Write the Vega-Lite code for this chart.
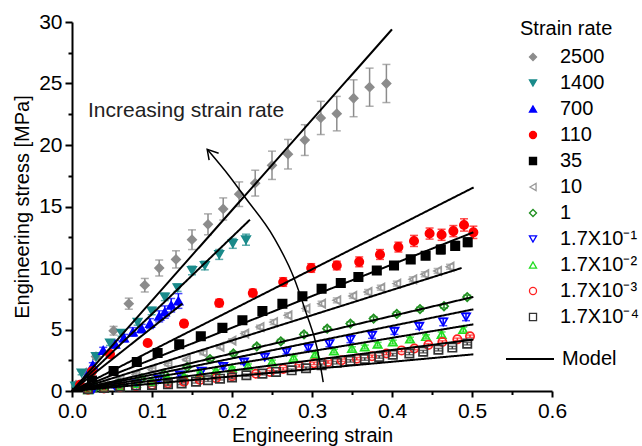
{
  "$schema": "https://vega.github.io/schema/vega-lite/v6.json",
  "width": 480,
  "height": 369,
  "autosize": {"type": "none"},
  "padding": {"left": 72, "top": 22, "right": 90, "bottom": 55},
  "background": "white",
  "config": {"view": {"stroke": null}, "font": "Liberation Sans"},
  "datasets": {
    "points": [
      {"rate":"2500","x":0.005,"y":0.5,"err":0.1},{"rate":"2500","x":0.018,"y":1.5,"err":0.15},{"rate":"2500","x":0.03,"y":2.8,"err":0.25},{"rate":"2500","x":0.052,"y":4.9,"err":0.35},{"rate":"2500","x":0.071,"y":7.1,"err":0.45},{"rate":"2500","x":0.091,"y":8.6,"err":0.55},{"rate":"2500","x":0.109,"y":10.0,"err":0.65},{"rate":"2500","x":0.13,"y":10.7,"err":0.7},{"rate":"2500","x":0.15,"y":12.3,"err":0.8},{"rate":"2500","x":0.17,"y":13.55,"err":0.85},{"rate":"2500","x":0.189,"y":14.8,"err":0.9},{"rate":"2500","x":0.209,"y":16.0,"err":1.0},{"rate":"2500","x":0.229,"y":16.9,"err":1.05},{"rate":"2500","x":0.25,"y":18.35,"err":1.15},{"rate":"2500","x":0.27,"y":19.25,"err":1.2},{"rate":"2500","x":0.291,"y":20.4,"err":1.25},{"rate":"2500","x":0.311,"y":22.2,"err":1.35},{"rate":"2500","x":0.331,"y":22.55,"err":1.4},{"rate":"2500","x":0.352,"y":23.8,"err":1.5},{"rate":"2500","x":0.372,"y":24.7,"err":1.55},{"rate":"2500","x":0.393,"y":25.0,"err":1.55},
      {"rate":"1400","x":0.004,"y":0.4,"err":0.1},{"rate":"1400","x":0.012,"y":1.47,"err":0.15},{"rate":"1400","x":0.03,"y":2.8,"err":0.2},{"rate":"1400","x":0.0475,"y":3.9,"err":0.2},{"rate":"1400","x":0.062,"y":4.7,"err":0.25},{"rate":"1400","x":0.082,"y":5.6,"err":0.25},{"rate":"1400","x":0.0996,"y":6.5,"err":0.3},{"rate":"1400","x":0.116,"y":7.65,"err":0.3},{"rate":"1400","x":0.132,"y":8.4,"err":0.3},{"rate":"1400","x":0.15,"y":9.8,"err":0.35},{"rate":"1400","x":0.166,"y":10.2,"err":0.35},{"rate":"1400","x":0.184,"y":11.1,"err":0.4},{"rate":"1400","x":0.201,"y":12.0,"err":0.4},{"rate":"1400","x":0.2175,"y":12.3,"err":0.45},
      {"rate":"700","x":0.01,"y":0.5,"err":0.1},{"rate":"700","x":0.02,"y":1.4,"err":0.15},{"rate":"700","x":0.026,"y":2.1,"err":0.2},{"rate":"700","x":0.039,"y":3.3,"err":0.25},{"rate":"700","x":0.054,"y":3.8,"err":0.3},{"rate":"700","x":0.065,"y":4.3,"err":0.3},{"rate":"700","x":0.076,"y":4.8,"err":0.35},{"rate":"700","x":0.087,"y":5.07,"err":0.35},{"rate":"700","x":0.0975,"y":5.48,"err":0.4},{"rate":"700","x":0.109,"y":6.07,"err":0.45},{"rate":"700","x":0.116,"y":6.42,"err":0.5},{"rate":"700","x":0.124,"y":6.97,"err":0.55},{"rate":"700","x":0.133,"y":7.32,"err":0.6},
      {"rate":"110","x":0.01,"y":0.5,"err":0.1},{"rate":"110","x":0.025,"y":1.6,"err":0.15},{"rate":"110","x":0.0475,"y":3.0,"err":0.2},{"rate":"110","x":0.0946,"y":3.9,"err":0.2},{"rate":"110","x":0.14,"y":5.48,"err":0.25},{"rate":"110","x":0.184,"y":7.15,"err":0.3},{"rate":"110","x":0.226,"y":7.97,"err":0.3},{"rate":"110","x":0.264,"y":8.86,"err":0.35},{"rate":"110","x":0.299,"y":10.0,"err":0.35},{"rate":"110","x":0.331,"y":10.2,"err":0.35},{"rate":"110","x":0.359,"y":10.5,"err":0.4},{"rate":"110","x":0.385,"y":11.1,"err":0.4},{"rate":"110","x":0.408,"y":11.7,"err":0.4},{"rate":"110","x":0.4275,"y":12.2,"err":0.45},{"rate":"110","x":0.447,"y":12.8,"err":0.45},{"rate":"110","x":0.462,"y":12.7,"err":0.45},{"rate":"110","x":0.4767,"y":13.0,"err":0.45},{"rate":"110","x":0.49,"y":13.5,"err":0.5},{"rate":"110","x":0.5017,"y":12.9,"err":0.5},
      {"rate":"35","x":0.025,"y":0.85,"err":0.1},{"rate":"35","x":0.052,"y":1.63,"err":0.1},{"rate":"35","x":0.081,"y":2.36,"err":0.1},{"rate":"35","x":0.107,"y":3.09,"err":0.1},{"rate":"35","x":0.134,"y":3.8,"err":0.15},{"rate":"35","x":0.161,"y":4.45,"err":0.15},{"rate":"35","x":0.188,"y":5.13,"err":0.15},{"rate":"35","x":0.213,"y":5.75,"err":0.2},{"rate":"35","x":0.238,"y":6.5,"err":0.2},{"rate":"35","x":0.263,"y":7.1,"err":0.2},{"rate":"35","x":0.288,"y":7.7,"err":0.2},{"rate":"35","x":0.312,"y":8.32,"err":0.25},{"rate":"35","x":0.336,"y":8.78,"err":0.25},{"rate":"35","x":0.358,"y":9.27,"err":0.25},{"rate":"35","x":0.381,"y":9.8,"err":0.3},{"rate":"35","x":0.4025,"y":10.2,"err":0.3},{"rate":"35","x":0.4234,"y":10.7,"err":0.3},{"rate":"35","x":0.442,"y":11.0,"err":0.3},{"rate":"35","x":0.461,"y":11.5,"err":0.35},{"rate":"35","x":0.479,"y":11.8,"err":0.35},{"rate":"35","x":0.4946,"y":12.1,"err":0.35},
      {"rate":"10","x":0.02,"y":0.3,"err":0.1},{"rate":"10","x":0.04,"y":0.6,"err":0.1},{"rate":"10","x":0.06,"y":0.95,"err":0.1},{"rate":"10","x":0.08,"y":1.35,"err":0.1},{"rate":"10","x":0.1,"y":1.75,"err":0.1},{"rate":"10","x":0.12,"y":2.15,"err":0.1},{"rate":"10","x":0.143,"y":2.55,"err":0.1},{"rate":"10","x":0.164,"y":3.1,"err":0.15},{"rate":"10","x":0.185,"y":3.6,"err":0.15},{"rate":"10","x":0.2,"y":4.1,"err":0.15},{"rate":"10","x":0.216,"y":4.67,"err":0.15},{"rate":"10","x":0.235,"y":5.2,"err":0.15},{"rate":"10","x":0.252,"y":5.6,"err":0.2},{"rate":"10","x":0.27,"y":6.15,"err":0.2},{"rate":"10","x":0.2925,"y":6.7,"err":0.2},{"rate":"10","x":0.312,"y":7.1,"err":0.2},{"rate":"10","x":0.331,"y":7.37,"err":0.2},{"rate":"10","x":0.351,"y":7.73,"err":0.2},{"rate":"10","x":0.37,"y":8.05,"err":0.2},{"rate":"10","x":0.386,"y":8.4,"err":0.2},{"rate":"10","x":0.406,"y":8.73,"err":0.2},{"rate":"10","x":0.426,"y":9.08,"err":0.2},{"rate":"10","x":0.441,"y":9.49,"err":0.2},{"rate":"10","x":0.457,"y":9.76,"err":0.2},{"rate":"10","x":0.4725,"y":10.1,"err":0.2},
      {"rate":"1","x":0.03,"y":0.3,"err":0.1},{"rate":"1","x":0.058,"y":0.6,"err":0.1},{"rate":"1","x":0.087,"y":1.0,"err":0.1},{"rate":"1","x":0.115,"y":1.4,"err":0.1},{"rate":"1","x":0.144,"y":1.95,"err":0.1},{"rate":"1","x":0.1725,"y":2.6,"err":0.15},{"rate":"1","x":0.2017,"y":3.05,"err":0.15},{"rate":"1","x":0.231,"y":3.62,"err":0.15},{"rate":"1","x":0.261,"y":4.04,"err":0.15},{"rate":"1","x":0.29,"y":4.6,"err":0.15},{"rate":"1","x":0.319,"y":5.07,"err":0.15},{"rate":"1","x":0.348,"y":5.48,"err":0.15},{"rate":"1","x":0.377,"y":5.89,"err":0.15},{"rate":"1","x":0.406,"y":6.27,"err":0.15},{"rate":"1","x":0.435,"y":6.66,"err":0.15},{"rate":"1","x":0.465,"y":6.89,"err":0.15},{"rate":"1","x":0.494,"y":7.64,"err":0.15},
      {"rate":"1.7X10⁻¹","x":0.027,"y":0.15,"err":0.1},{"rate":"1.7X10⁻¹","x":0.054,"y":0.35,"err":0.1},{"rate":"1.7X10⁻¹","x":0.081,"y":0.6,"err":0.1},{"rate":"1.7X10⁻¹","x":0.108,"y":0.95,"err":0.15},{"rate":"1.7X10⁻¹","x":0.135,"y":1.3,"err":0.15},{"rate":"1.7X10⁻¹","x":0.162,"y":1.6,"err":0.2},{"rate":"1.7X10⁻¹","x":0.189,"y":2.0,"err":0.2},{"rate":"1.7X10⁻¹","x":0.215,"y":2.36,"err":0.2},{"rate":"1.7X10⁻¹","x":0.241,"y":2.77,"err":0.2},{"rate":"1.7X10⁻¹","x":0.268,"y":3.2,"err":0.2},{"rate":"1.7X10⁻¹","x":0.2955,"y":3.5,"err":0.2},{"rate":"1.7X10⁻¹","x":0.3217,"y":3.85,"err":0.25},{"rate":"1.7X10⁻¹","x":0.348,"y":4.18,"err":0.25},{"rate":"1.7X10⁻¹","x":0.375,"y":4.53,"err":0.25},{"rate":"1.7X10⁻¹","x":0.403,"y":4.85,"err":0.25},{"rate":"1.7X10⁻¹","x":0.434,"y":5.26,"err":0.25},{"rate":"1.7X10⁻¹","x":0.464,"y":5.61,"err":0.3},{"rate":"1.7X10⁻¹","x":0.4925,"y":6.02,"err":0.3},
      {"rate":"1.7X10⁻²","x":0.02,"y":0.1,"err":0.1},{"rate":"1.7X10⁻²","x":0.04,"y":0.25,"err":0.1},{"rate":"1.7X10⁻²","x":0.06,"y":0.4,"err":0.1},{"rate":"1.7X10⁻²","x":0.08,"y":0.6,"err":0.1},{"rate":"1.7X10⁻²","x":0.1,"y":0.8,"err":0.1},{"rate":"1.7X10⁻²","x":0.12,"y":1.0,"err":0.1},{"rate":"1.7X10⁻²","x":0.14,"y":1.2,"err":0.1},{"rate":"1.7X10⁻²","x":0.16,"y":1.45,"err":0.1},{"rate":"1.7X10⁻²","x":0.18,"y":1.65,"err":0.1},{"rate":"1.7X10⁻²","x":0.2,"y":1.85,"err":0.1},{"rate":"1.7X10⁻²","x":0.22,"y":2.05,"err":0.15},{"rate":"1.7X10⁻²","x":0.25,"y":2.36,"err":0.15},{"rate":"1.7X10⁻²","x":0.277,"y":2.7,"err":0.15},{"rate":"1.7X10⁻²","x":0.304,"y":2.98,"err":0.15},{"rate":"1.7X10⁻²","x":0.3275,"y":3.25,"err":0.15},{"rate":"1.7X10⁻²","x":0.35,"y":3.45,"err":0.15},{"rate":"1.7X10⁻²","x":0.366,"y":3.58,"err":0.15},{"rate":"1.7X10⁻²","x":0.382,"y":3.8,"err":0.15},{"rate":"1.7X10⁻²","x":0.401,"y":3.98,"err":0.15},{"rate":"1.7X10⁻²","x":0.4225,"y":4.22,"err":0.15},{"rate":"1.7X10⁻²","x":0.4425,"y":4.42,"err":0.15},{"rate":"1.7X10⁻²","x":0.462,"y":4.6,"err":0.2},{"rate":"1.7X10⁻²","x":0.489,"y":4.99,"err":0.2},
      {"rate":"1.7X10⁻³","x":0.02,"y":0.1,"err":0.1},{"rate":"1.7X10⁻³","x":0.04,"y":0.2,"err":0.1},{"rate":"1.7X10⁻³","x":0.06,"y":0.3,"err":0.1},{"rate":"1.7X10⁻³","x":0.08,"y":0.4,"err":0.1},{"rate":"1.7X10⁻³","x":0.1,"y":0.5,"err":0.1},{"rate":"1.7X10⁻³","x":0.12,"y":0.62,"err":0.1},{"rate":"1.7X10⁻³","x":0.14,"y":0.75,"err":0.1},{"rate":"1.7X10⁻³","x":0.16,"y":0.9,"err":0.1},{"rate":"1.7X10⁻³","x":0.18,"y":1.05,"err":0.1},{"rate":"1.7X10⁻³","x":0.2,"y":1.2,"err":0.1},{"rate":"1.7X10⁻³","x":0.23,"y":1.4,"err":0.1},{"rate":"1.7X10⁻³","x":0.2475,"y":1.55,"err":0.1},{"rate":"1.7X10⁻³","x":0.264,"y":1.8,"err":0.1},{"rate":"1.7X10⁻³","x":0.284,"y":2.05,"err":0.1},{"rate":"1.7X10⁻³","x":0.3025,"y":2.25,"err":0.1},{"rate":"1.7X10⁻³","x":0.32,"y":2.36,"err":0.1},{"rate":"1.7X10⁻³","x":0.337,"y":2.5,"err":0.1},{"rate":"1.7X10⁻³","x":0.356,"y":2.63,"err":0.1},{"rate":"1.7X10⁻³","x":0.375,"y":2.82,"err":0.1},{"rate":"1.7X10⁻³","x":0.393,"y":3.05,"err":0.1},{"rate":"1.7X10⁻³","x":0.412,"y":3.3,"err":0.1},{"rate":"1.7X10⁻³","x":0.428,"y":3.45,"err":0.1},{"rate":"1.7X10⁻³","x":0.4454,"y":3.75,"err":0.1},{"rate":"1.7X10⁻³","x":0.463,"y":3.98,"err":0.1},{"rate":"1.7X10⁻³","x":0.4817,"y":4.2,"err":0.1},{"rate":"1.7X10⁻³","x":0.4975,"y":4.45,"err":0.1},
      {"rate":"1.7X10⁻⁴","x":0.02,"y":0.15,"err":0.1},{"rate":"1.7X10⁻⁴","x":0.04,"y":0.25,"err":0.1},{"rate":"1.7X10⁻⁴","x":0.06,"y":0.35,"err":0.1},{"rate":"1.7X10⁻⁴","x":0.08,"y":0.45,"err":0.1},{"rate":"1.7X10⁻⁴","x":0.1,"y":0.5,"err":0.1},{"rate":"1.7X10⁻⁴","x":0.12,"y":0.55,"err":0.1},{"rate":"1.7X10⁻⁴","x":0.137,"y":0.62,"err":0.1},{"rate":"1.7X10⁻⁴","x":0.155,"y":0.75,"err":0.1},{"rate":"1.7X10⁻⁴","x":0.17,"y":0.88,"err":0.1},{"rate":"1.7X10⁻⁴","x":0.185,"y":1.0,"err":0.1},{"rate":"1.7X10⁻⁴","x":0.2,"y":1.1,"err":0.1},{"rate":"1.7X10⁻⁴","x":0.218,"y":1.28,"err":0.1},{"rate":"1.7X10⁻⁴","x":0.238,"y":1.41,"err":0.1},{"rate":"1.7X10⁻⁴","x":0.255,"y":1.55,"err":0.1},{"rate":"1.7X10⁻⁴","x":0.2746,"y":1.68,"err":0.1},{"rate":"1.7X10⁻⁴","x":0.2925,"y":1.85,"err":0.1},{"rate":"1.7X10⁻⁴","x":0.312,"y":2.1,"err":0.1},{"rate":"1.7X10⁻⁴","x":0.331,"y":2.3,"err":0.1},{"rate":"1.7X10⁻⁴","x":0.348,"y":2.45,"err":0.1},{"rate":"1.7X10⁻⁴","x":0.366,"y":2.6,"err":0.1},{"rate":"1.7X10⁻⁴","x":0.384,"y":2.77,"err":0.1},{"rate":"1.7X10⁻⁴","x":0.401,"y":2.95,"err":0.1},{"rate":"1.7X10⁻⁴","x":0.4217,"y":3.05,"err":0.1},{"rate":"1.7X10⁻⁴","x":0.439,"y":3.2,"err":0.1},{"rate":"1.7X10⁻⁴","x":0.458,"y":3.36,"err":0.1},{"rate":"1.7X10⁻⁴","x":0.4754,"y":3.53,"err":0.1},{"rate":"1.7X10⁻⁴","x":0.494,"y":3.85,"err":0.1}
    ],
    "models": [
      {"rate":"2500","kind":"Model","x":0,"y":0},{"rate":"2500","kind":"Model","x":0.4,"y":29.4},
      {"rate":"1400","kind":"Model","x":0,"y":0},{"rate":"1400","kind":"Model","x":0.2225,"y":13.93},
      {"rate":"700","kind":"Model","x":0,"y":0},{"rate":"700","kind":"Model","x":0.138,"y":7.1},
      {"rate":"110","kind":"Model","x":0,"y":0},{"rate":"110","kind":"Model","x":0.502,"y":16.55},
      {"rate":"35","kind":"Model","x":0,"y":0},{"rate":"35","kind":"Model","x":0.5017,"y":12.9},
      {"rate":"10","kind":"Model","x":0,"y":0},{"rate":"10","kind":"Model","x":0.487,"y":10.0},
      {"rate":"1","kind":"Model","x":0,"y":0},{"rate":"1","kind":"Model","x":0.5017,"y":7.65},
      {"rate":"1.7X10⁻¹","kind":"Model","x":0,"y":0},{"rate":"1.7X10⁻¹","kind":"Model","x":0.5017,"y":6.64},
      {"rate":"1.7X10⁻²","kind":"Model","x":0,"y":0},{"rate":"1.7X10⁻²","kind":"Model","x":0.5017,"y":5.42},
      {"rate":"1.7X10⁻³","kind":"Model","x":0,"y":0},{"rate":"1.7X10⁻³","kind":"Model","x":0.5017,"y":4.18},
      {"rate":"1.7X10⁻⁴","kind":"Model","x":0,"y":0},{"rate":"1.7X10⁻⁴","kind":"Model","x":0.5017,"y":2.98}
    ],
    "arrow": [
      {"i":0,"x":0.169,"y":19.65},{"i":1,"x":0.1975,"y":17.4},{"i":2,"x":0.216,"y":15.77},{"i":3,"x":0.252,"y":12.52},{"i":4,"x":0.277,"y":9.27},{"i":5,"x":0.293,"y":6.29},{"i":6,"x":0.306,"y":3.58},{"i":7,"x":0.314,"y":0.73}
    ],
    "head": [
      {"i":0,"x":0.1714,"y":18.77},{"i":1,"x":0.169,"y":19.65},{"i":2,"x":0.1833,"y":19.33}
    ],
    "note": [
      {"x":0.02,"y":22.8,"label":"Increasing strain rate"}
    ]
  },
  "encoding": {
    "x": {
      "field": "x", "type": "quantitative",
      "scale": {"domain": [0, 0.6], "nice": false, "zero": false},
      "axis": {
        "title": "Engineering strain",
        "values": [0, 0.05, 0.1, 0.15, 0.2, 0.25, 0.3, 0.35, 0.4, 0.45, 0.5, 0.55, 0.6],
        "labelExpr": "abs(datum.value*10 - round(datum.value*10)) < 0.001 ? format(datum.value, '.1f') : ''",
        "tickSize": {"condition": {"test": "abs(datum.value*10 - round(datum.value*10)) < 0.001", "value": 6}, "value": 3.5},
        "grid": false, "domainColor": "black", "domainWidth": 2, "tickColor": "black", "tickWidth": 2,
        "labelFontSize": 21, "labelColor": "black", "labelFont": "Liberation Sans", "labelPadding": 3, "labelFlush": false,
        "titleFontSize": 20, "titleFontWeight": "normal", "titleColor": "black", "titleFont": "Liberation Sans", "titlePadding": 4
      }
    },
    "y": {
      "field": "y", "type": "quantitative",
      "scale": {"domain": [0, 30], "nice": false},
      "axis": {
        "title": "Engineering stress [MPa]",
        "values": [0, 2.5, 5, 7.5, 10, 12.5, 15, 17.5, 20, 22.5, 25, 27.5, 30],
        "labelExpr": "datum.value % 5 === 0 ? format(datum.value, 'd') : ''",
        "tickSize": {"condition": {"test": "datum.value % 5 === 0", "value": 7}, "value": 4},
        "grid": false, "domainColor": "black", "domainWidth": 2, "tickColor": "black", "tickWidth": 2,
        "labelFontSize": 21, "labelColor": "black", "labelFont": "Liberation Sans", "labelPadding": 3, "labelFlush": false,
        "titleFontSize": 20, "titleFontWeight": "normal", "titleColor": "black", "titleFont": "Liberation Sans", "titlePadding": 6
      }
    }
  },
  "layer": [
    {
      "data": {"name": "points"},
      "transform": [{"filter": "datum.err > 0"}],
      "mark": {"type": "errorbar", "ticks": {"size": 8, "thickness": 1.5}, "rule": {"strokeWidth": 1.5}},
      "encoding": {
        "yError": {"field": "err"},
        "color": {
          "field": "rate", "type": "nominal", "legend": null,
          "scale": {
            "domain": ["1.7X10⁻⁴","1.7X10⁻³","1.7X10⁻²","1.7X10⁻¹","1","10","35","110","700","1400","2500"],
            "range": ["#333333","#ff2020","#22dd22","#0000ff","#1f8f1f","#999999","#000000","#ff0000","#0000ff","#1a8a8a","#8c8c8c"]
          }
        }
      }
    },
    {
      "data": {"name": "points"},
      "mark": {"type": "point", "size": 70, "strokeWidth": 1.7, "opacity": 1},
      "encoding": {
        "shape": {
          "field": "rate", "type": "nominal",
          "scale": {
            "domain": ["2500","1400","700","110","35","10","1","1.7X10⁻¹","1.7X10⁻²","1.7X10⁻³","1.7X10⁻⁴"],
            "range": ["diamond","triangle-down","triangle-up","circle","square","triangle-left","diamond","triangle-down","triangle-up","circle","square"]
          },
          "legend": {"title": "Strain rate", "orient": "none", "legendX": 448, "legendY": -3, "padding": 0,
            "titleFontSize": 20, "titleFontWeight": "normal", "titleColor": "black", "titleFont": "Liberation Sans", "titlePadding": 8,
            "labelFontSize": 20, "labelColor": "black", "labelFont": "Liberation Sans",
            "symbolSize": 50, "symbolStrokeWidth": 1.3, "symbolOffset": 3, "labelOffset": 17, "rowPadding": 6}
        },
        "fill": {
          "field": "rate", "type": "nominal",
          "scale": {
            "domain": ["2500","1400","700","110","35","10","1","1.7X10⁻¹","1.7X10⁻²","1.7X10⁻³","1.7X10⁻⁴"],
            "range": ["#8c8c8c","#1a8a8a","#0000ff","#ff0000","#000000","transparent","transparent","transparent","transparent","transparent","transparent"]
          },
          "legend": {"title": "Strain rate", "orient": "none", "legendX": 448, "legendY": -3, "padding": 0,
            "titleFontSize": 20, "titleFontWeight": "normal", "titleColor": "black", "titleFont": "Liberation Sans", "titlePadding": 8,
            "labelFontSize": 20, "labelColor": "black", "labelFont": "Liberation Sans",
            "symbolSize": 50, "symbolStrokeWidth": 1.3, "symbolOffset": 3, "labelOffset": 17, "rowPadding": 6}
        },
        "stroke": {
          "field": "rate", "type": "nominal",
          "scale": {
            "domain": ["2500","1400","700","110","35","10","1","1.7X10⁻¹","1.7X10⁻²","1.7X10⁻³","1.7X10⁻⁴"],
            "range": ["#8c8c8c","#1a8a8a","#0000ff","#ff0000","#000000","#999999","#1f8f1f","#0000ff","#22dd22","#ff2020","#333333"]
          },
          "legend": {"title": "Strain rate", "orient": "none", "legendX": 448, "legendY": -3, "padding": 0,
            "titleFontSize": 20, "titleFontWeight": "normal", "titleColor": "black", "titleFont": "Liberation Sans", "titlePadding": 8,
            "labelFontSize": 20, "labelColor": "black", "labelFont": "Liberation Sans",
            "symbolSize": 50, "symbolStrokeWidth": 1.3, "symbolOffset": 3, "labelOffset": 17, "rowPadding": 6}
        }
      }
    },
    {
      "data": {"name": "models"},
      "mark": {"type": "line", "color": "black", "strokeWidth": 2},
      "encoding": {
        "detail": {"field": "rate", "type": "nominal"},
        "strokeDash": {
          "field": "kind", "type": "nominal",
          "scale": {"domain": ["Model"], "range": [[1, 0]]},
          "legend": {"title": null, "orient": "none", "legendX": 433, "legendY": 312, "padding": 0,
            "symbolType": "stroke", "symbolSize": 2304, "symbolStrokeWidth": 2, "symbolStrokeColor": "black",
            "labelFontSize": 20, "labelColor": "black", "labelFont": "Liberation Sans", "labelOffset": 7}
        }
      }
    },
    {
      "data": {"name": "arrow"},
      "mark": {"type": "line", "color": "black", "strokeWidth": 1.5, "interpolate": "monotone"},
      "encoding": {"order": {"field": "i", "type": "quantitative"}}
    },
    {
      "data": {"name": "head"},
      "mark": {"type": "line", "color": "black", "strokeWidth": 1.5},
      "encoding": {"order": {"field": "i", "type": "quantitative"}}
    },
    {
      "data": {"name": "note"},
      "mark": {"type": "text", "align": "left", "baseline": "middle", "fontSize": 21, "font": "Liberation Sans", "color": "#222222"},
      "encoding": {"text": {"field": "label", "type": "nominal"}}
    }
  ]
}
